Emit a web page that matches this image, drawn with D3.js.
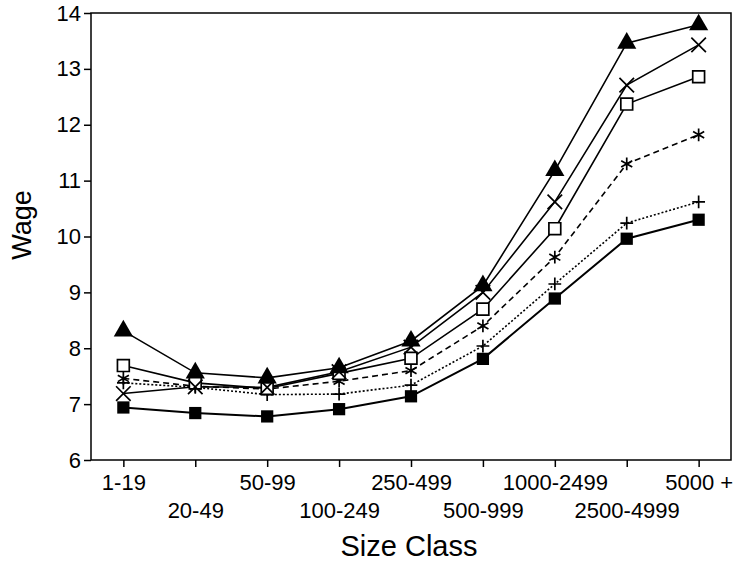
<!DOCTYPE html>
<html>
<head>
<meta charset="utf-8">
<script src="https://cdn.jsdelivr.net/npm/d3@7.9.0/dist/d3.min.js"></script>
<style>
  body { margin: 0; background: #fff; }
  svg { display: block; font-family: "Liberation Sans", Arial, sans-serif; }
  .axis text { font-size: 22px; fill: #000; }
  .axis path, .axis line { stroke: #000; stroke-width: 1.5; }
</style>
</head>
<body>
<div id="chart"></div>
<script>
const sizeClasses = ['1-19', '20-49', '50-99', '100-249', '250-499', '500-999', '1000-2499', '2500-4999', '5000+'];
const wageTicks = [6, 7, 8, 9, 10, 11, 12, 13, 14];

// one array per series
const triangleSeries = [8.31, 7.56, 7.47, 7.65, 8.13, 9.12, 11.18, 13.46, 13.79];
const crossSeries = [7.19, 7.31, 7.30, 7.58, 8.02, 9.00, 10.62, 12.71, 13.43];
const openSquareSeries = [7.69, 7.38, 7.28, 7.55, 7.82, 8.70, 10.14, 12.37, 12.86];
const asteriskSeries = [7.46, 7.32, 7.27, 7.41, 7.60, 8.40, 9.63, 11.30, 11.82];
const plusSeries = [7.38, 7.30, 7.17, 7.18, 7.34, 8.04, 9.15, 10.24, 10.62];
const filledSquareSeries = [6.94, 6.84, 6.78, 6.91, 7.14, 7.81, 8.89, 9.96, 10.30];

const series = [
  { values: filledSquareSeries, symbol: d3.symbolSquare, size: 150, fill: '#000', dash: null, width: 2 },
  { values: plusSeries, symbol: d3.symbolPlus, size: 55, fill: 'none', dash: '2,2', width: 1.6 },
  { values: asteriskSeries, symbol: d3.symbolAsterisk, size: 115, fill: 'none', dash: '6,4', width: 1.6 },
  { values: openSquareSeries, symbol: d3.symbolSquare, size: 140, fill: '#fff', dash: null, width: 1.6 },
  { values: crossSeries, symbol: d3.symbolX, size: 140, fill: 'none', dash: null, width: 1.6 },
  { values: triangleSeries, symbol: d3.symbolTriangle, size: 160, fill: '#000', dash: null, width: 1.6 },
];

const width = 735;
const height = 565;
const plot = { left: 91, right: 731, top: 13, bottom: 460 };

const svg = d3.select('#chart')
  .append('svg')
  .attr('width', width)
  .attr('height', height);

const xScale = d3.scalePoint()
  .domain(sizeClasses)
  .range([plot.left, plot.right])
  .padding(0.45);

const yScale = d3.scaleLinear()
  .domain([6, 14])
  .range([plot.bottom, plot.top]);

// frame
svg.append('rect')
  .attr('x', plot.left)
  .attr('y', plot.top)
  .attr('width', plot.right - plot.left)
  .attr('height', plot.bottom - plot.top)
  .attr('fill', 'none')
  .attr('stroke', '#000')
  .attr('stroke-width', 1.5);

const yAxis = svg.append('g')
  .attr('class', 'axis')
  .attr('transform', `translate(${plot.left},0)`)
  .call(d3.axisLeft(yScale).tickValues(wageTicks).tickSize(7).tickPadding(3).tickSizeOuter(0));
yAxis.select('.domain').remove();

const xAxis = svg.append('g')
  .attr('class', 'axis')
  .attr('transform', `translate(0,${plot.bottom})`)
  .call(d3.axisBottom(xScale).tickSize(7).tickSizeOuter(0));
xAxis.select('.domain').remove();
xAxis.selectAll('text')
  .attr('y', (d, i) => (i % 2 ? 42 : 14))
  .attr('dy', '0.71em')
  .text((d) => (d === '5000+' ? '5000 +' : d));

svg.append('text')
  .attr('x', 409)
  .attr('y', 556)
  .attr('text-anchor', 'middle')
  .style('font-size', '29px')
  .text('Size Class');

svg.append('text')
  .attr('transform', 'translate(31,225) rotate(-90)')
  .attr('text-anchor', 'middle')
  .style('font-size', '27px')
  .text('Wage');

const line = d3.line()
  .x((d, i) => xScale(sizeClasses[i]))
  .y((d) => yScale(d));

for (const s of series) {
  svg.append('path')
    .datum(s.values)
    .attr('d', line)
    .attr('fill', 'none')
    .attr('stroke', '#000')
    .attr('stroke-width', s.width)
    .attr('stroke-dasharray', s.dash);
}

for (const s of series) {
  svg.append('g')
    .selectAll('path')
    .data(s.values)
    .join('path')
    .attr('transform', (d, i) => `translate(${xScale(sizeClasses[i])},${yScale(d)})`)
    .attr('d', d3.symbol().type(s.symbol).size(s.size))
    .attr('fill', s.fill)
    .attr('stroke', '#000')
    .attr('stroke-width', s.fill === '#000' ? 0 : 1.7);
}
</script>
</body>
</html>
